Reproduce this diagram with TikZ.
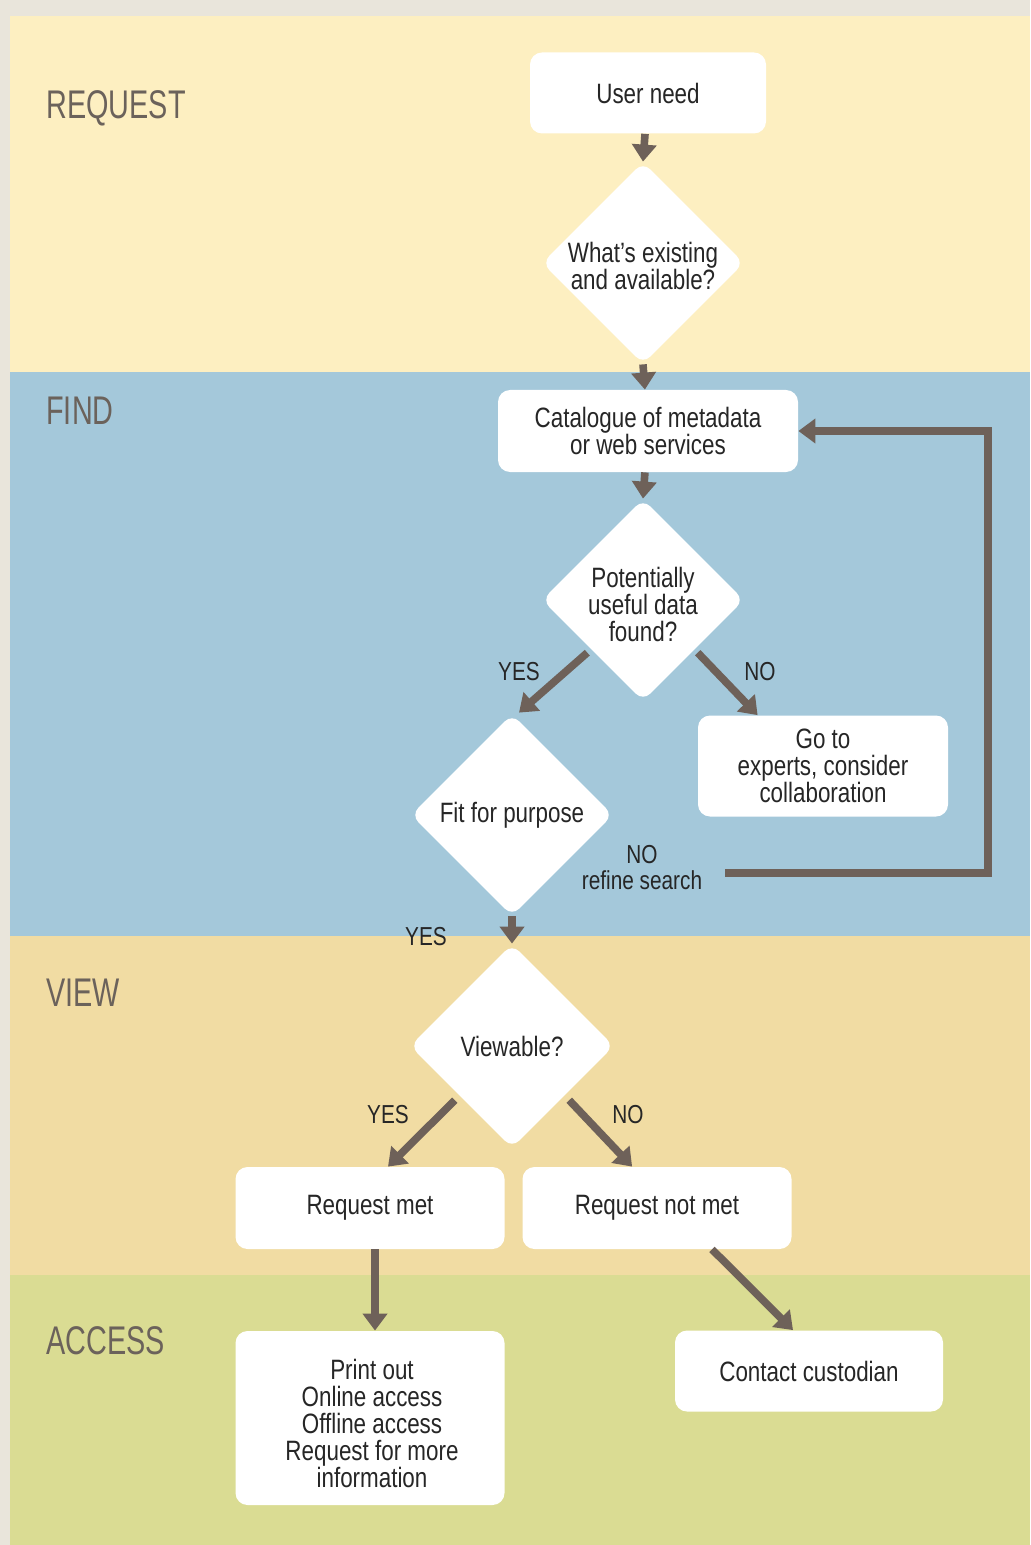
\documentclass[tikz,border=0pt]{standalone}
\usepackage{fontspec}
\setmainfont{Liberation Sans}[FakeStretch=0.8]
\newfontfamily\bandfont{Liberation Sans}[FakeStretch=0.72]
\usetikzlibrary{shapes.geometric,arrows.meta,calc}
\definecolor{frame}{HTML}{E9E5DB}
\definecolor{reqband}{HTML}{FDEFC1}
\definecolor{findband}{HTML}{A4C8DA}
\definecolor{viewband}{HTML}{F1DCA3}
\definecolor{accband}{HTML}{DADC93}
\definecolor{flow}{HTML}{6E6159}
\definecolor{bandtext}{HTML}{6B625B}
\definecolor{boxtext}{HTML}{262626}
\begin{document}
\begin{tikzpicture}[x=0.5pt,y=-0.5pt,
  box/.style={rectangle, rounded corners=6pt, fill=white, inner sep=0pt, align=center,
    text=boxtext, font=\fontsize{14}{13.5}\selectfont},
  decision/.style={diamond, rounded corners=5pt, fill=white, inner sep=0pt,
    minimum width=#1, minimum height=#1},
  qtext/.style={align=center, text=boxtext, font=\fontsize{14}{13.5}\selectfont, inner sep=0pt},
  band/.style={anchor=west, text=bandtext, font=\bandfont\fontsize{20}{20}\selectfont, inner sep=0pt},
  answer/.style={text=boxtext, font=\fontsize{13}{13}\selectfont, align=center, inner sep=0pt},
  flowline/.style={draw=flow, line width=3.8pt, -{Triangle[width=12pt,length=8.5pt]}},
]
\useasboundingbox (0,0) rectangle (1030,1545);

% frame and the four stage bands
\fill[frame] (0,0) rectangle (1030,1545);
\fill[reqband]  (10,16)   rectangle (1030,372);
\fill[findband] (10,372)  rectangle (1030,936);
\fill[viewband] (10,936)  rectangle (1030,1275);
\fill[accband]  (10,1275) rectangle (1030,1545);

% stage titles
\node[band] (lreq)  at (46,108)  {REQUEST};
\node[band] (lfind) at (46,411)  {FIND};
\node[band] (lview) at (46,993)  {VIEW};
\node[band] (lacc)  at (46,1341) {ACCESS};

% process boxes
\node[box, minimum width=118pt, minimum height=40.5pt] (need) at (648,93) {User need};
\node[box, minimum width=150pt, minimum height=41pt] (cat) at (648,431)
  {Catalogue of metadata\\or web services};
\node[box, minimum width=125pt, minimum height=50.5pt] (experts) at (823,766)
  {Go to\\experts, consider\\collaboration};
\node[box, minimum width=134.5pt, minimum height=41pt] (met) at (370,1208) {Request met};
\node[box, minimum width=134.5pt, minimum height=41pt] (notmet) at (657,1208) {Request not met};
\node[box, minimum width=134.5pt, minimum height=87pt] (options) at (370,1418) {};
\node[qtext] (optionst) at (372,1423)
  {Print out\\Online access\\Offline access\\Request for more\\information};
\node[box, minimum width=134pt, minimum height=40.5pt] (custodian) at (809,1371) {Contact custodian};

% decisions
\node[decision=101pt] (exist) at (643,263) {};
\node[qtext] (existt) at (643,266) {What's existing\\and available?};
\node[decision=101pt] (useful) at (643,600) {};
\node[qtext] (usefult) at (643,604) {Potentially\\useful data\\found?};
\node[decision=101pt] (fit) at (512,815) {};
\node[qtext] (fitt) at (512,815) {Fit for purpose};
\node[decision=102pt] (view) at (512,1046) {};
\node[qtext] (viewt) at (512,1046) {Viewable?};

% answer labels
\node[answer] (ayes1) at (519,672) {YES};
\node[answer] (ano1)  at (760,672) {NO};
\node[answer] (ano2)  at (642,868) {NO\\refine search};
\node[answer] (ayes2) at (426,937) {YES};
\node[answer] (ayes3) at (388,1115) {YES};
\node[answer] (ano3)  at (628,1115) {NO};

% connectors
\coordinate (refine) at (725,873);
\coordinate (loop) at (988,873);
\draw[flowline] (need) -- (exist.north);
\draw[flowline] (exist.south) -- (cat);
\draw[flowline] (cat) -- (useful.north);
\draw[flowline] ($(useful.south west)+(-5,2)$) -- ($(fit.north)+(7,-1)$);
\draw[flowline] ($(useful.south east)+(4,2)$) -- ($(experts.north west)+(60,0)$);
\draw[flowline] (refine) -- (loop) |- (cat.east);
\draw[flowline] (fit.south) -- (view.north);
\draw[flowline] ($(view.south west)+(-6,3)$) -- ($(met.north)+(18,0)$);
\draw[flowline] ($(view.south east)+(6,3)$) -- ($(notmet.north west)+(110,0)$);
\draw[flowline] ($(met.south)+(5,0)$) -- ($(options.north)+(5,0)$);
\draw[flowline] ($(notmet.south)+(55,0)$) -- ($(custodian.north)+(-16,0)$);
\end{tikzpicture}
\end{document}
